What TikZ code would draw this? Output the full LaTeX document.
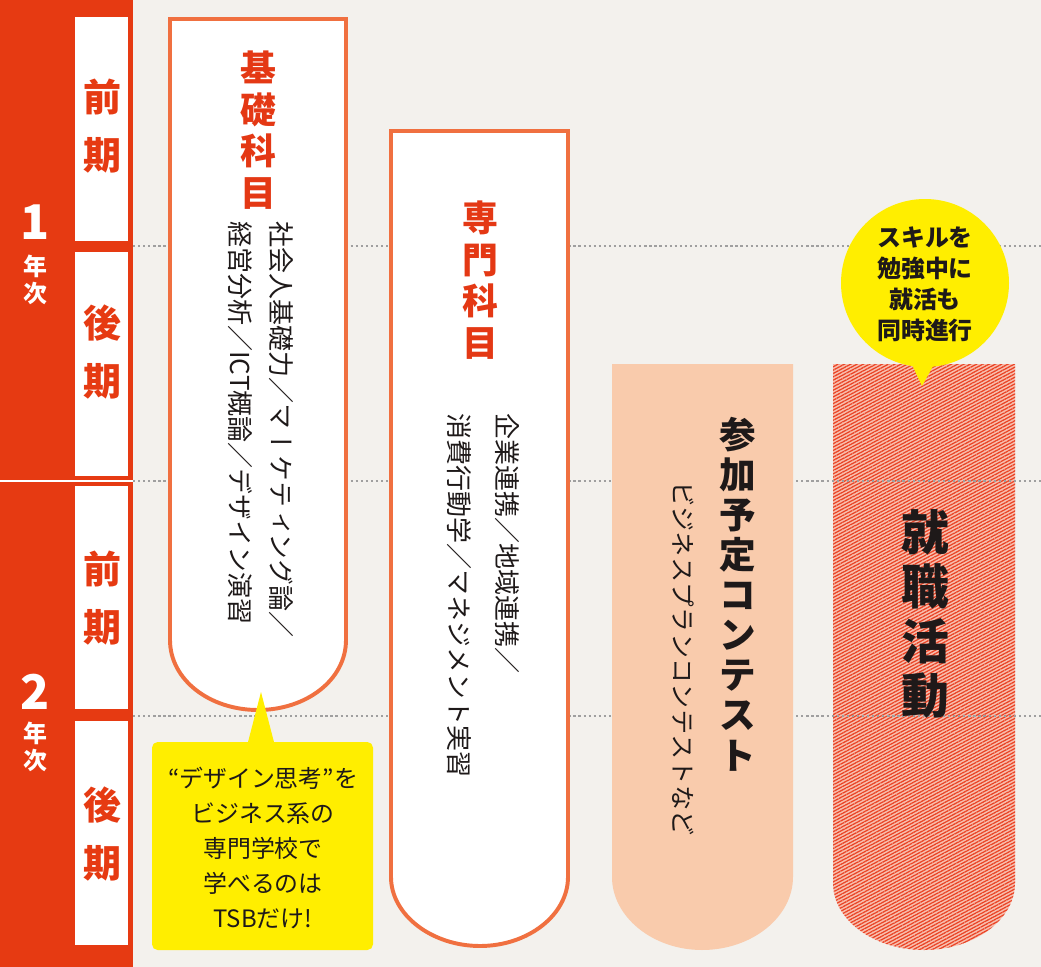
\documentclass[tikz,border=0pt]{standalone}
\usepackage{fontspec}
\setmainfont{Noto Sans CJK JP}
\newfontfamily\jpv[Vertical=RotatedGlyphs]{Noto Sans CJK JP}
\usetikzlibrary{patterns.meta}

\definecolor{paper}{RGB}{243,241,237}
\definecolor{barred}{RGB}{230,58,18}
\definecolor{lineorange}{RGB}{240,112,64}
\definecolor{titlered}{RGB}{228,56,20}
\definecolor{peach}{RGB}{249,203,172}
\definecolor{hatchpink}{RGB}{248,192,176}
\definecolor{hatchred}{RGB}{234,68,38}
\definecolor{bubble}{RGB}{255,238,0}
\definecolor{ink}{RGB}{30,25,25}

\tikzset{
    % Year bar styles
    year num/.style={font=\fontsize{34}{34}\selectfont\bfseries, white},
    year unit/.style={font=\fontsize{17}{19.5}\selectfont\bfseries, white, align=center},
    term box/.style={fill=white},
    term label/.style={font=\fontsize{27}{41.5}\selectfont\bfseries, barred, align=center},
    % Dotted guide lines
    guide/.style={gray!75, line width=1pt, dash pattern=on 1.6pt off 2pt},
    % Column styles
    subject box/.style={draw=lineorange, line width=2.8pt, fill=white},
    contest box/.style={fill=peach},
    job box/.style={preaction={fill=hatchpink},
        pattern={Lines[angle=28, distance=2.1pt, line width=0.9pt]}, pattern color=hatchred},
    callout/.style={fill=bubble},
    % Text styles
    subject title/.style={font=\fontsize{25.5}{29.5}\selectfont\bfseries, titlered, align=center},
    big title/.style={font=\fontsize{26}{28.5}\selectfont\bfseries, ink, align=center},
    vert text/.style={font=\jpv\fontsize{18.5}{22}\selectfont, ink, rotate=-90, anchor=west, inner sep=0pt},
    callout text/.style={font=\fontsize{17}{25}\selectfont, ink, align=center},
}

\begin{document}
\begin{tikzpicture}[x=0.025cm, y=-0.025cm]
    % Background
    \fill[paper] (0,0) rectangle (1041,967);
    \useasboundingbox (0,0) rectangle (1041,967);

    % Year bar
    \fill[barred] (0,0) rectangle (133,967);
    \draw[white, line width=1.4pt] (0,481) -- (133,481);
    \foreach \top/\bot in {17/241, 252/476, 486/709, 721/945}
        \fill[term box] (75,\top) rectangle (128,\bot);

    \node[year num] (y1) at (35,222) {1};
    \node[year unit] (y1u) at (35,280) {年\\次};
    \node[year num] (y2) at (35,692) {2};
    \node[year unit] (y2u) at (35,747) {年\\次};

    \node[term label] (t1) at (102,126) {前\\期};
    \node[term label] (t2) at (102,352) {後\\期};
    \node[term label] (t3) at (102,598) {前\\期};
    \node[term label] (t4) at (102,834) {後\\期};

    % Job hunting column (hatched)
    \path[job box] (833,364) -- (833,883) .. controls (833,920) and (874,950) .. (924,950)
        .. controls (974,950) and (1015,920) .. (1015,883) -- (1015,364) -- cycle;

    % Dotted guide lines
    \foreach \y in {246, 481, 716}
        \draw[guide] (133,\y) -- (1041,\y);

    % Basic subjects
    \draw[subject box] (346,19) -- (170,19) -- (170,640) .. controls (170,680) and (210,710) .. (258,710)
        .. controls (306,710) and (346,680) .. (346,640) -- cycle;
    \node[subject title] (basic) at (258,130) {基\\礎\\科\\目};
    \node[vert text] (basic a) at (281,221) {社会人基礎力／マーケティング論／};
    \node[vert text] (basic b) at (240,221) {経営分析／ICT概論／デザイン演習};

    % Special subjects
    \draw[subject box] (568,131) -- (391,131) -- (391,877) .. controls (391,915) and (432,946) .. (480,946)
        .. controls (528,946) and (568,915) .. (568,877) -- cycle;
    \node[subject title] (special) at (480,280) {専\\門\\科\\目};
    \node[vert text] (special a) at (507,413) {企業連携／地域連携／};
    \node[vert text] (special b) at (459,413) {消費行動学／マネジメント実習};

    % Contest column
    \fill[contest box] (612,364) -- (612,877) .. controls (612,917) and (653,950) .. (702,950)
        .. controls (752,950) and (793,917) .. (793,877) -- (793,364) -- cycle;
    \node[big title] (contest) at (738,594) {参\\加\\予\\定\\コ\\ン\\テ\\ス\\ト};
    \node[vert text, font=\jpv\fontsize{18}{22}\selectfont] (contest sub) at (683,481) {ビジネスプランコンテストなど};

    % Job hunting title
    \node[big title, font=\fontsize{34}{38.6}\selectfont\bfseries] (job) at (925,614) {就\\職\\活\\動};

    % Callout under basic subjects
    \fill[callout, rounded corners=4pt] (152,742) rectangle (373,950);
    \fill[callout] (247,746) -- (261,692) -- (275,746) -- cycle;
    \node[callout text] (note a) at (263,848) {“デザイン思考”を\\ビジネス系の\\専門学校で\\学べるのは\\TSBだけ!};

    % Callout over job hunting
    \fill[callout] (925,283) circle[radius=84];
    \fill[callout] (905,350) -- (922,386) -- (942,350) -- cycle;
    \node[callout text, font=\fontsize{17}{22}\selectfont\bfseries] (note b) at (925,284) {スキルを\\勉強中に\\就活も\\同時進行};
\end{tikzpicture}
\end{document}
